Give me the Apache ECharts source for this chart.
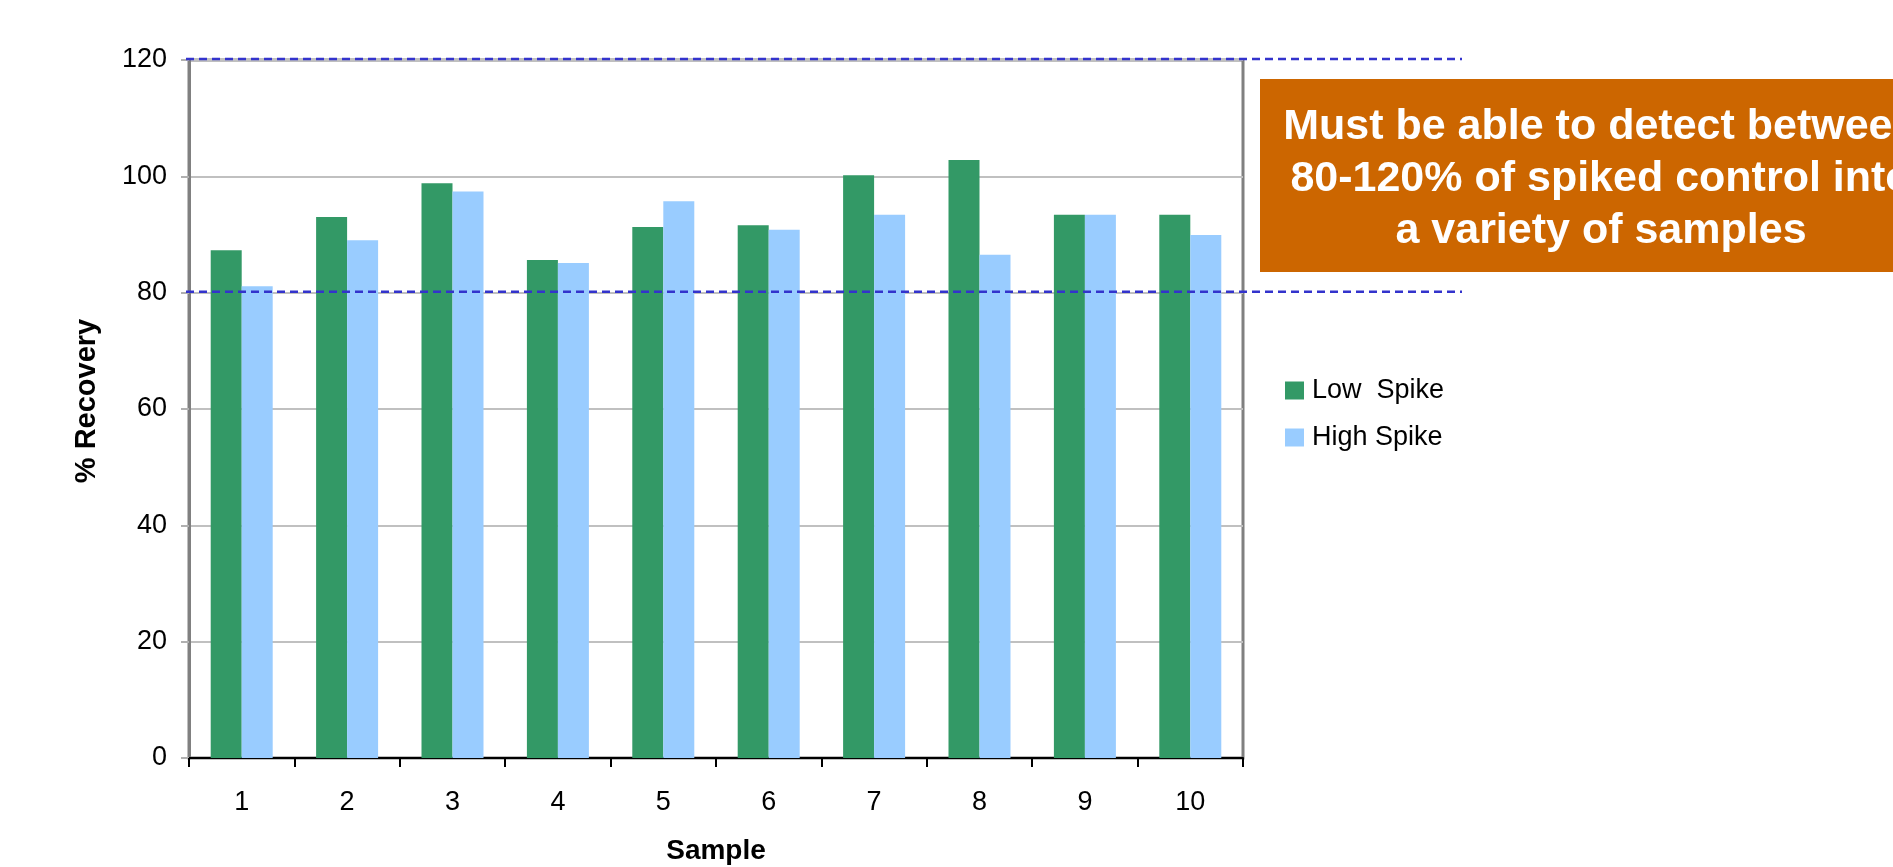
<!DOCTYPE html>
<html>
<head>
<meta charset="utf-8">
<title>% Recovery by Sample</title>
<script src="https://cdn.jsdelivr.net/npm/echarts@6/dist/echarts.min.js"></script>
<style>
  html, body { margin: 0; padding: 0; background: #ffffff; }
  #chart { width: 1893px; height: 867px; }
</style>
</head>
<body>
<div id="chart"></div>
<script>
// Samples on the x axis
const samples = ['1', '2', '3', '4', '5', '6', '7', '8', '9', '10'];
// % recovery of the spiked control, per sample
const lowSpike = [87.3, 93.0, 98.8, 85.6, 91.3, 91.6, 100.2, 102.8, 93.4, 93.4];
const highSpike = [81.1, 89.0, 97.4, 85.1, 95.7, 90.8, 93.4, 86.5, 93.4, 89.9];
// Acceptance window drawn as dashed guide lines
const acceptLimits = [120, 80];
// Y axis range
const yMin = 0, yMax = 120, yStep = 20;
const seriesNames = ['Low  Spike', 'High Spike'];
const noteLines = ['Must be able to detect between', '80-120% of spiked control into', 'a variety of samples'];

const FONT = '"Liberation Sans", Arial, Helvetica, sans-serif';

const chart = echarts.init(document.getElementById('chart'), null, { renderer: 'canvas' });

const option = {
  animation: false,
  backgroundColor: '#ffffff',
  textStyle: { fontFamily: FONT },
  grid: {
    left: 189, right: 650, top: 60, bottom: 109,
    containLabel: false,
    outerBoundsMode: 'none',
    show: true,
    borderColor: '#808080',
    borderWidth: 3,
    backgroundColor: 'transparent'
  },
  legend: {
    orient: 'vertical',
    left: 1280,
    top: 372,
    itemWidth: 19,
    itemHeight: 18,
    itemGap: 20,
    icon: 'rect',
    textStyle: { fontFamily: FONT, fontSize: 27, color: '#000000', padding: [0, 0, 0, 3] },
    data: seriesNames
  },
  xAxis: {
    type: 'category',
    data: samples,
    name: 'Sample',
    nameLocation: 'middle',
    nameGap: 79,
    nameTextStyle: { fontFamily: FONT, fontSize: 28, fontWeight: 'bold', color: '#000000' },
    axisLine: { show: true, lineStyle: { color: '#000000', width: 2 } },
    axisTick: { show: true, inside: false, length: 9, lineStyle: { color: '#000000', width: 2 } },
    axisLabel: { fontFamily: FONT, fontSize: 27, color: '#000000', margin: 31 },
    splitLine: { show: false }
  },
  yAxis: {
    type: 'value',
    min: yMin,
    max: yMax,
    interval: yStep,
    name: '% Recovery',
    nameLocation: 'middle',
    nameRotate: 90,
    nameGap: 88,
    nameTextStyle: { fontFamily: FONT, fontSize: 29, fontWeight: 'bold', color: '#000000', padding: [0, 0, 0, 16] },
    axisLine: { show: true, lineStyle: { color: '#808080', width: 3 } },
    axisTick: { show: true, inside: false, length: 8, lineStyle: { color: '#b0b0b0', width: 2 } },
    axisLabel: { fontFamily: FONT, fontSize: 27, color: '#000000', margin: 22 },
    splitLine: { show: true, lineStyle: { color: '#c0c0c0', width: 2 } }
  },
  series: [
    {
      name: seriesNames[0],
      type: 'bar',
      data: lowSpike,
      barWidth: 31,
      barGap: '0%',
      itemStyle: { color: '#339966' }
    },
    {
      name: seriesNames[1],
      type: 'bar',
      data: highSpike,
      barWidth: 31,
      barGap: '0%',
      itemStyle: { color: '#99ccff' }
    }
  ]
};

chart.setOption(option);

// Dashed guide lines at the acceptance limits, running past the plot frame,
// and the orange note box to the right of the chart.
function drawOverlay() {
  const xLeft = 186;
  const xRight = 1462;
  const guideLines = acceptLimits.map(function (v) {
    const y = chart.convertToPixel({ yAxisIndex: 0 }, v);
    return {
      type: 'line',
      z: 100,
      shape: { x1: xLeft, y1: y - 1, x2: xRight, y2: y - 1 },
      style: { stroke: '#3333cc', lineWidth: 2.5, lineDash: [8, 5] }
    };
  });

  const boxX = 1260, boxY = 79, boxW = 682, boxH = 193;
  const note = [
    {
      type: 'rect',
      z: 110,
      shape: { x: boxX, y: boxY, width: boxW, height: boxH },
      style: { fill: '#cc6600' }
    },
    {
      type: 'text',
      z: 120,
      x: boxX + boxW / 2,
      y: boxY + boxH / 2 + 4,
      style: {
        text: noteLines.join('\n'),
        fill: '#ffffff',
        font: 'bold 43px ' + FONT,
        align: 'center',
        verticalAlign: 'middle',
        lineHeight: 52
      }
    }
  ];

  chart.setOption({ graphic: guideLines.concat(note) });
}

drawOverlay();
</script>
</body>
</html>
